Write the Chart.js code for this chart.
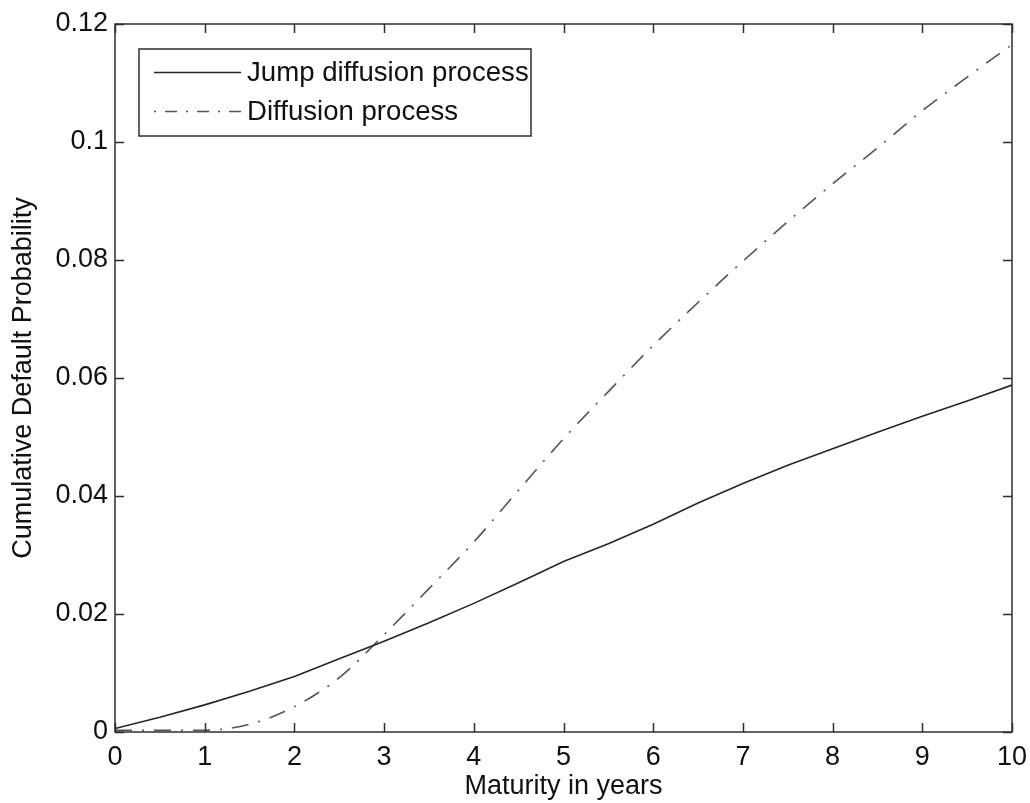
<!DOCTYPE html>
<html>
<head>
<meta charset="utf-8">
<title>Cumulative Default Probability</title>
<script src="https://cdn.jsdelivr.net/npm/chart.js@4/dist/chart.umd.min.js"></script>
<style>
  html, body { margin: 0; padding: 0; background: #fff; }
  #grafico { display: block; }
</style>
</head>
<body>
<canvas id="grafico" width="1030" height="803"></canvas>
<script>
// maturities in years and cumulative default probabilities
const maturities = [0, 0.5, 1, 1.5, 2, 2.5, 3, 3.5, 4, 4.5, 5, 5.5, 6, 6.5, 7, 7.5, 8, 8.5, 9, 9.5, 10];
const jumpDiffusion = [0.0006, 0.0025, 0.0046, 0.0069, 0.0094, 0.0124, 0.0154, 0.0185, 0.0218, 0.0253, 0.0289, 0.0319, 0.0352, 0.0388, 0.0421, 0.0452, 0.0480, 0.0508, 0.0535, 0.0561, 0.0588];
const diffusion = [0.0003, 0.0003, 0.0003, 0.0013, 0.0043, 0.0092, 0.0165, 0.0243, 0.0322, 0.0410, 0.0497, 0.0577, 0.0655, 0.0728, 0.0798, 0.0865, 0.0929, 0.0990, 0.1053, 0.1110, 0.1165];
const xTicks = [0, 1, 2, 3, 4, 5, 6, 7, 8, 9, 10];
const yTicks = [0, 0.02, 0.04, 0.06, 0.08, 0.1, 0.12];

const fuente = "'Liberation Sans', Arial, sans-serif";
const colorEje = '#2e2e2e';

function puntos(valores) {
    return maturities.map((m, i) => ({ x: m, y: valores[i] }));
}

// MATLAB-like box: frame with inward ticks on all four sides
const marcoPlugin = {
    id: 'marco',
    afterDraw(chart) {
        const { ctx, chartArea: a, scales } = chart;
        const largo = 9;
        ctx.save();
        ctx.strokeStyle = colorEje;
        ctx.lineWidth = 1.5;
        ctx.beginPath();
        xTicks.forEach(v => {
            const px = Math.round(scales.x.getPixelForValue(v)) + 0.5;
            ctx.moveTo(px, a.bottom); ctx.lineTo(px, a.bottom - largo);
            ctx.moveTo(px, a.top); ctx.lineTo(px, a.top + largo);
        });
        yTicks.forEach(v => {
            const py = Math.round(scales.y.getPixelForValue(v)) + 0.5;
            ctx.moveTo(a.left, py); ctx.lineTo(a.left + largo, py);
            ctx.moveTo(a.right, py); ctx.lineTo(a.right - largo, py);
        });
        ctx.stroke();
        ctx.strokeRect(a.left, a.top, a.right - a.left, a.bottom - a.top);
        ctx.restore();
    }
};

// legend box in the upper left corner of the axes
const leyendaPlugin = {
    id: 'leyenda',
    afterDraw(chart) {
        const { ctx } = chart;
        const x0 = 139, y0 = 49, ancho = 392, alto = 87;
        ctx.save();
        ctx.fillStyle = '#fff';
        ctx.fillRect(x0, y0, ancho, alto);
        ctx.strokeStyle = colorEje;
        ctx.lineWidth = 1.5;
        ctx.strokeRect(x0, y0, ancho, alto);
        const filas = [72, 111];
        chart.data.datasets.forEach((ds, i) => {
            const y = filas[i] + 0.5;
            ctx.strokeStyle = ds.borderColor;
            ctx.lineWidth = ds.borderWidth;
            ctx.setLineDash(ds.leyendaDash || []);
            ctx.beginPath();
            ctx.moveTo(154, y);
            ctx.lineTo(241, y);
            ctx.stroke();
            ctx.setLineDash([]);
            ctx.fillStyle = '#111';
            ctx.font = '27.6px ' + fuente;
            ctx.textBaseline = 'middle';
            ctx.textAlign = 'left';
            ctx.fillText(ds.label, 247, filas[i] + 1);
        });
        ctx.restore();
    }
};

// fixed axis sizes, no extra room for edge labels
function fijarX(s) {
    s.height = 71;
    s.paddingLeft = 0;
    s.paddingRight = 0;
}
function fijarY(s) {
    s.width = 115;
    s.paddingTop = 0;
    s.paddingBottom = 0;
}

const ctx = document.getElementById('grafico').getContext('2d');
const chart = new Chart(ctx, {
    type: 'line',
    data: {
        datasets: [{
            label: 'Jump diffusion process',
            data: puntos(jumpDiffusion),
            borderColor: '#262626',
            borderWidth: 1.6,
            pointRadius: 0,
            tension: 0
        }, {
            label: 'Diffusion process',
            data: puntos(diffusion),
            borderColor: '#555555',
            borderWidth: 1.6,
            borderDash: [17, 10, 2, 10],
            leyendaDash: [2, 9, 12, 9],
            pointRadius: 0,
            cubicInterpolationMode: 'monotone'
        }]
    },
    options: {
        responsive: false,
        animation: false,
        events: [],
        layout: { padding: { left: 0, top: 24, right: 18, bottom: 0 } },
        plugins: {
            legend: { display: false },
            tooltip: { enabled: false }
        },
        scales: {
            x: {
                type: 'linear',
                min: 0,
                max: 10,
                afterFit: fijarX,
                afterBuildTicks: s => { s.ticks = xTicks.map(v => ({ value: v })); },
                grid: { display: false, drawTicks: false },
                border: { display: false },
                ticks: {
                    padding: 9,
                    color: '#111',
                    font: { family: fuente, size: 27 },
                    maxRotation: 0
                },
                title: {
                    display: true,
                    text: 'Maturity in years',
                    color: '#111',
                    font: { family: fuente, size: 27 },
                    padding: { top: 0, bottom: 0 }
                }
            },
            y: {
                min: 0,
                max: 0.12,
                afterFit: fijarY,
                afterBuildTicks: s => { s.ticks = yTicks.map(v => ({ value: v })); },
                grid: { display: false, drawTicks: false },
                border: { display: false },
                ticks: {
                    padding: 7,
                    color: '#111',
                    font: { family: fuente, size: 27 },
                    callback: v => String(+v.toFixed(4))
                },
                title: {
                    display: true,
                    text: 'Cumulative Default Probability',
                    color: '#111',
                    font: { family: fuente, size: 27 },
                    padding: { top: 7, bottom: 0 }
                }
            }
        }
    },
    plugins: [marcoPlugin, leyendaPlugin]
});
</script>
</body>
</html>
